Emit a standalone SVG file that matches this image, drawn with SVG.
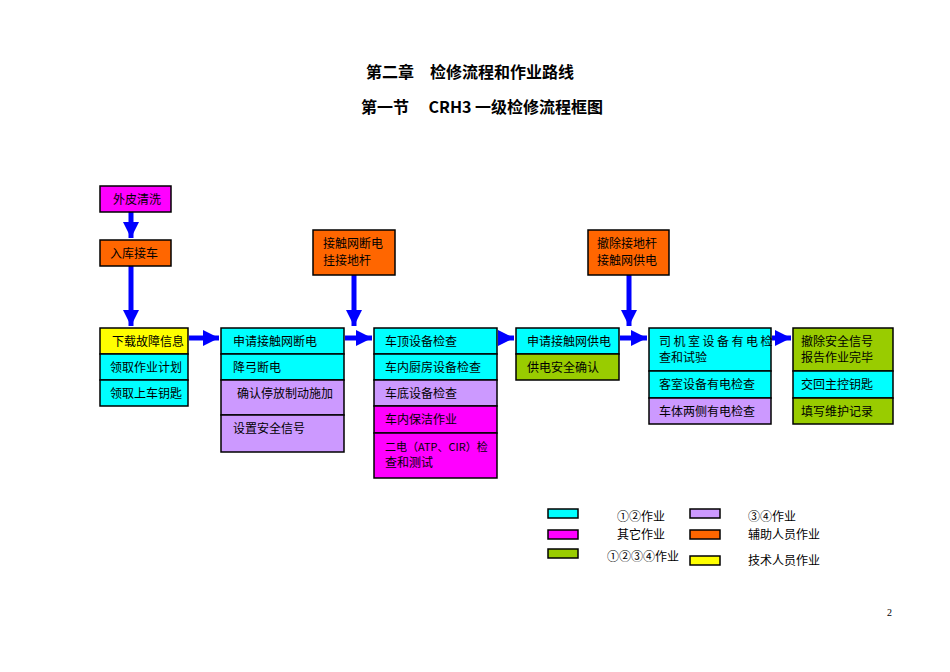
<svg xmlns="http://www.w3.org/2000/svg" width="950" height="672" viewBox="0 0 950 672">
<style>
rect{stroke:#000;stroke-width:1.5}
.c{fill:#00FFFF}.m{fill:#FF00FF}.o{fill:#FF6600}.y{fill:#FFFF00}.p{fill:#CC99FF}.g{fill:#99CC00}
text{font-family:"Noto Sans CJK SC","Liberation Serif",serif;font-size:12px;fill:#000}
.t{font-size:16px;font-weight:bold;text-anchor:middle}
.a{stroke:#0000FF;stroke-width:5;fill:none}
</style>
<defs><marker id="ah" markerUnits="userSpaceOnUse" markerWidth="18" markerHeight="16" refX="16" refY="8" orient="auto"><path d="M0,0L16,8L0,16z" fill="#0000FF"/></marker></defs>
<rect width="950" height="672" fill="#fff" style="stroke:none"/>
<text class="t" x="470" y="78">第二章　检修流程和作业路线</text>
<text class="t" x="482" y="113">第一节　 CRH3 一级检修流程框图</text>
<g id="connectors">
<path class="a" d="M131,212V238" marker-end="url(#ah)"/>
<path class="a" d="M131,266V326" marker-end="url(#ah)"/>
<path class="a" d="M189,338H219" marker-end="url(#ah)"/>
<path class="a" d="M345,338H372" marker-end="url(#ah)"/>
<path class="a" d="M354,275V326" marker-end="url(#ah)"/>
<path class="a" d="M498,338H514" marker-end="url(#ah)"/>
<path class="a" d="M620,338H647" marker-end="url(#ah)"/>
<path class="a" d="M629,275V326" marker-end="url(#ah)"/>
<path class="a" d="M772,338H791" marker-end="url(#ah)"/>
</g>
<g id="n-wpqx"><rect class="m" x="100" y="186" width="71" height="26"/><text x="113" y="204">外皮清洗</text></g>
<g id="n-rkjc"><rect class="o" x="100" y="240" width="71" height="26"/><text x="110" y="258">入库接车</text></g>
<g id="col1">
<rect class="y" x="100" y="328" width="88" height="26"/><text x="112" y="346">下载故障信息</text>
<rect class="c" x="100" y="354" width="88" height="26"/><text x="110" y="372">领取作业计划</text>
<rect class="c" x="100" y="380" width="88" height="26"/><text x="110" y="398">领取上车钥匙</text>
</g>
<g id="n-dd1"><rect class="o" x="313" y="230" width="82" height="45"/><text x="323" y="248">接触网断电</text><text x="323" y="265">挂接地杆</text></g>
<g id="col2">
<rect class="c" x="221" y="328" width="123" height="26"/><text x="233" y="346">申请接触网断电</text>
<rect class="c" x="221" y="354" width="123" height="26"/><text x="233" y="372">降弓断电</text>
<rect class="p" x="221" y="380" width="123" height="35"/><text x="237" y="398">确认停放制动施加</text>
<rect class="p" x="221" y="415" width="123" height="37"/><text x="233" y="433">设置安全信号</text>
</g>
<g id="col3">
<rect class="c" x="374" y="328" width="123" height="26"/><text x="385" y="346">车顶设备检查</text>
<rect class="c" x="374" y="354" width="123" height="26"/><text x="385" y="372">车内厨房设备检查</text>
<rect class="p" x="374" y="380" width="123" height="26"/><text x="385" y="398">车底设备检查</text>
<rect class="m" x="374" y="406" width="123" height="27"/><text x="385" y="424">车内保洁作业</text>
<rect class="m" x="374" y="433" width="123" height="45"/><text x="385" y="451" style="font-size:11px">二电（ATP、CIR）检</text><text x="385" y="467">查和测试</text>
</g>
<g id="n-gd"><rect class="o" x="588" y="230" width="81" height="45"/><text x="597" y="248">撤除接地杆</text><text x="597" y="265">接触网供电</text></g>
<g id="col4">
<rect class="c" x="516" y="328" width="103" height="26"/><text x="527" y="346">申请接触网供电</text>
<rect class="g" x="516" y="354" width="103" height="26"/><text x="527" y="372">供电安全确认</text>
</g>
<g id="col5">
<rect class="c" x="649" y="328" width="122" height="43"/><text x="659" y="346" style="letter-spacing:2.5px">司机室设备有电检</text><text x="659" y="362">查和试验</text>
<rect class="c" x="649" y="371" width="122" height="27"/><text x="659" y="389">客室设备有电检查</text>
<rect class="p" x="649" y="398" width="122" height="26"/><text x="659" y="416">车体两侧有电检查</text>
</g>
<g id="col6">
<rect class="g" x="793" y="328" width="100" height="43"/><text x="801" y="346">撤除安全信号</text><text x="801" y="362">报告作业完毕</text>
<rect class="c" x="793" y="371" width="100" height="27"/><text x="801" y="389">交回主控钥匙</text>
<rect class="g" x="793" y="398" width="100" height="26"/><text x="801" y="416">填写维护记录</text>
</g>
<g id="legend">
<rect class="c" x="548" y="509" width="30" height="9"/><text x="617" y="521">①②作业</text>
<rect class="m" x="548" y="530" width="30" height="9"/><text x="617" y="539">其它作业</text>
<rect class="g" x="548" y="549" width="30" height="9"/><text x="607" y="561">①②③④作业</text>
<rect class="p" x="690" y="509" width="30" height="9"/><text x="748" y="521">③④作业</text>
<rect class="o" x="690" y="530" width="30" height="9"/><text x="748" y="539">辅助人员作业</text>
<rect class="y" x="690" y="556" width="30" height="9"/><text x="748" y="565">技术人员作业</text>
</g>
<text x="887" y="616" style="font-family:'Liberation Serif',serif;font-size:10px">2</text>
</svg>
